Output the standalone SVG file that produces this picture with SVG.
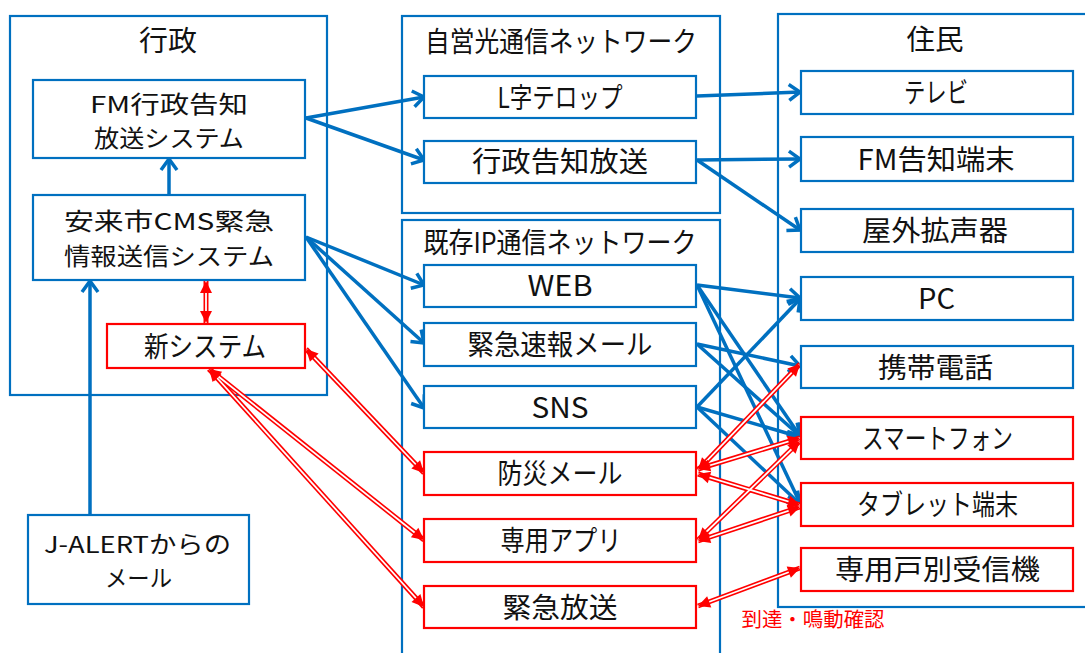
<svg xmlns="http://www.w3.org/2000/svg" width="1085" height="653" viewBox="0 0 1085 653">
<style>
text{font-family:"Noto Sans CJK JP","Noto Sans",sans-serif;font-size:28px;fill:#111;text-anchor:middle}
text.two{font-size:23.5px}
.cont{fill:none;stroke:#0070C0;stroke-width:2.2}
.nb{fill:#fff;stroke:#0070C0;stroke-width:2.2}
.nr{fill:#fff;stroke:#FF0000;stroke-width:2.2}
.blue path{fill:none;stroke:#0070C0;stroke-width:3.5;marker-end:url(#ab)}
.r1 path{fill:none;stroke:#FF0000;stroke-width:5}
.r2 path{fill:none;stroke:#fff;stroke-width:1.8}
.r3 path{fill:none;stroke:none;marker-start:url(#ar);marker-end:url(#ar)}
.note{font-size:20px;fill:#FF0000}
</style>
<defs>
<marker id="ab" markerUnits="userSpaceOnUse" viewBox="-16 -11 19 22" markerWidth="19" markerHeight="22" refX="0" refY="0" orient="auto" overflow="visible">
<path d="M-11,-8 L0,0 L-11,8" fill="none" stroke="#0070C0" stroke-width="3.5"/>
</marker>
<marker id="ar" markerUnits="userSpaceOnUse" viewBox="-13 -7 14 14" markerWidth="14" markerHeight="14" refX="0" refY="0" orient="auto-start-reverse" overflow="visible">
<path d="M0,0 L-12,-6 L-12,6 z" fill="#FF0000"/>
</marker>
</defs>

<g id="containers">
<rect class="cont" x="10" y="16" width="317" height="379"/>
<text x="168" y="50.5" textLength="58" lengthAdjust="spacingAndGlyphs">行政</text>
<rect class="cont" x="402" y="16" width="318" height="197"/>
<text x="561" y="51.5" textLength="272" lengthAdjust="spacingAndGlyphs">自営光通信ネットワーク</text>
<rect class="cont" x="402" y="220" width="318" height="445"/>
<text x="560" y="252.5" textLength="273" lengthAdjust="spacingAndGlyphs">既存IP通信ネットワーク</text>
<rect class="cont" x="778" y="14" width="320" height="593"/>
<text x="935" y="50" textLength="57" lengthAdjust="spacingAndGlyphs">住民</text>
</g>

<g id="connectors">
<g class="blue">
<path d="M306,118 L424,97"/>
<path d="M306,118 L424,160"/>
<path d="M306,237 L424,285"/>
<path d="M306,237 L424,343"/>
<path d="M306,237 L424,408"/>
<path d="M169,195 L169,159"/>
<path d="M90,515 L90,281"/>
<path d="M697,96 L800,92"/>
<path d="M697,160 L800,159"/>
<path d="M697,160 L800,230"/>
<path d="M697,285 L800,298"/>
<path d="M697,285 L800,436"/>
<path d="M697,285 L800,503"/>
<path d="M697,344 L800,366"/>
<path d="M697,344 L800,436"/>
<path d="M697,407 L800,299"/>
<path d="M697,407 L800,437"/>
<path d="M697,407 L800,504"/>
</g>
<g class="r1">
<path d="M206,281 L206,323"/>
<path d="M306,349 L424,473"/>
<path d="M209,369 L424,540"/>
<path d="M209,369 L424,607"/>
<path d="M698,470 L800,364"/>
<path d="M698,469 L800,438"/>
<path d="M698,474 L800,505"/>
<path d="M698,540 L800,441"/>
<path d="M698,541 L800,507"/>
<path d="M698,606 L800,568"/>
</g>
<g class="r2">
<path d="M206,281 L206,323"/>
<path d="M306,349 L424,473"/>
<path d="M209,369 L424,540"/>
<path d="M209,369 L424,607"/>
<path d="M698,470 L800,364"/>
<path d="M698,469 L800,438"/>
<path d="M698,474 L800,505"/>
<path d="M698,540 L800,441"/>
<path d="M698,541 L800,507"/>
<path d="M698,606 L800,568"/>
</g>
<g class="r3">
<path d="M206,281 L206,323"/>
<path d="M306,349 L424,473"/>
<path d="M209,369 L424,540"/>
<path d="M209,369 L424,607"/>
<path d="M698,470 L800,364"/>
<path d="M698,469 L800,438"/>
<path d="M698,474 L800,505"/>
<path d="M698,540 L800,441"/>
<path d="M698,541 L800,507"/>
<path d="M698,606 L800,568"/>
</g>
<text class="note" x="813" y="627" textLength="143" lengthAdjust="spacingAndGlyphs">到達・鳴動確認</text>
</g>

<g id="n-fm"><rect class="nb" x="33" y="80" width="272" height="78"/>
<text class="two" x="169" y="113" textLength="158" lengthAdjust="spacingAndGlyphs">FM行政告知</text>
<text class="two" x="169" y="147" textLength="150" lengthAdjust="spacingAndGlyphs">放送システム</text></g>
<g id="n-cms"><rect class="nb" x="33" y="195" width="272" height="85"/>
<text class="two" x="169" y="230" textLength="210" lengthAdjust="spacingAndGlyphs">安来市CMS緊急</text>
<text class="two" x="169" y="265" textLength="210" lengthAdjust="spacingAndGlyphs">情報送信システム</text></g>
<g id="n-new"><rect class="nr" x="107" y="324" width="198" height="44"/>
<text x="205" y="357" textLength="122" lengthAdjust="spacingAndGlyphs">新システム</text></g>
<g id="n-jalert"><rect class="nb" x="28" y="515" width="221" height="89"/>
<text class="two" x="137.5" y="553" textLength="187" lengthAdjust="spacingAndGlyphs">J-ALERTからの</text>
<text class="two" x="138.5" y="587" textLength="67" lengthAdjust="spacingAndGlyphs">メール</text></g>

<g id="n-l"><rect class="nb" x="424" y="76" width="272" height="42"/>
<text x="560" y="107.5" textLength="125" lengthAdjust="spacingAndGlyphs">L字テロップ</text></g>
<g id="n-gyosei"><rect class="nb" x="424" y="141" width="272" height="42"/>
<text x="560" y="172" textLength="176" lengthAdjust="spacingAndGlyphs">行政告知放送</text></g>
<g id="n-web"><rect class="nb" x="424" y="265" width="272" height="42"/>
<text x="560" y="296" textLength="65" lengthAdjust="spacingAndGlyphs">WEB</text></g>
<g id="n-kinkyumail"><rect class="nb" x="424" y="323" width="272" height="43"/>
<text x="560" y="355" textLength="185" lengthAdjust="spacingAndGlyphs">緊急速報メール</text></g>
<g id="n-sns"><rect class="nb" x="424" y="386" width="272" height="42"/>
<text x="560" y="417.5" textLength="57" lengthAdjust="spacingAndGlyphs">SNS</text></g>
<g id="n-bosai"><rect class="nr" x="424" y="452" width="272" height="43"/>
<text x="560" y="484" textLength="125" lengthAdjust="spacingAndGlyphs">防災メール</text></g>
<g id="n-app"><rect class="nr" x="424" y="519" width="272" height="43"/>
<text x="561" y="551" textLength="121" lengthAdjust="spacingAndGlyphs">専用アプリ</text></g>
<g id="n-kinkyuhoso"><rect class="nr" x="424" y="586" width="272" height="42"/>
<text x="560" y="617.5" textLength="115" lengthAdjust="spacingAndGlyphs">緊急放送</text></g>

<g id="n-tv"><rect class="nb" x="801" y="71" width="272" height="43"/>
<text x="936" y="103" textLength="64" lengthAdjust="spacingAndGlyphs">テレビ</text></g>
<g id="n-fmterm"><rect class="nb" x="801" y="137" width="272" height="44"/>
<text x="936" y="169.5" textLength="157" lengthAdjust="spacingAndGlyphs">FM告知端末</text></g>
<g id="n-speaker"><rect class="nb" x="801" y="209" width="272" height="43"/>
<text x="935" y="241" textLength="146" lengthAdjust="spacingAndGlyphs">屋外拡声器</text></g>
<g id="n-pc"><rect class="nb" x="801" y="277" width="272" height="43"/>
<text x="936.5" y="309" textLength="37" lengthAdjust="spacingAndGlyphs">PC</text></g>
<g id="n-mobile"><rect class="nb" x="801" y="346" width="272" height="42"/>
<text x="935.5" y="377.5" textLength="115" lengthAdjust="spacingAndGlyphs">携帯電話</text></g>
<g id="n-smart"><rect class="nr" x="801" y="417" width="272" height="42"/>
<text x="937.5" y="448.5" textLength="151" lengthAdjust="spacingAndGlyphs">スマートフォン</text></g>
<g id="n-tablet"><rect class="nr" x="801" y="483" width="272" height="43"/>
<text x="937.5" y="515" textLength="161" lengthAdjust="spacingAndGlyphs">タブレット端末</text></g>
<g id="n-receiver"><rect class="nr" x="801" y="548" width="272" height="43"/>
<text x="937.5" y="580" textLength="205" lengthAdjust="spacingAndGlyphs">専用戸別受信機</text></g>
</svg>
